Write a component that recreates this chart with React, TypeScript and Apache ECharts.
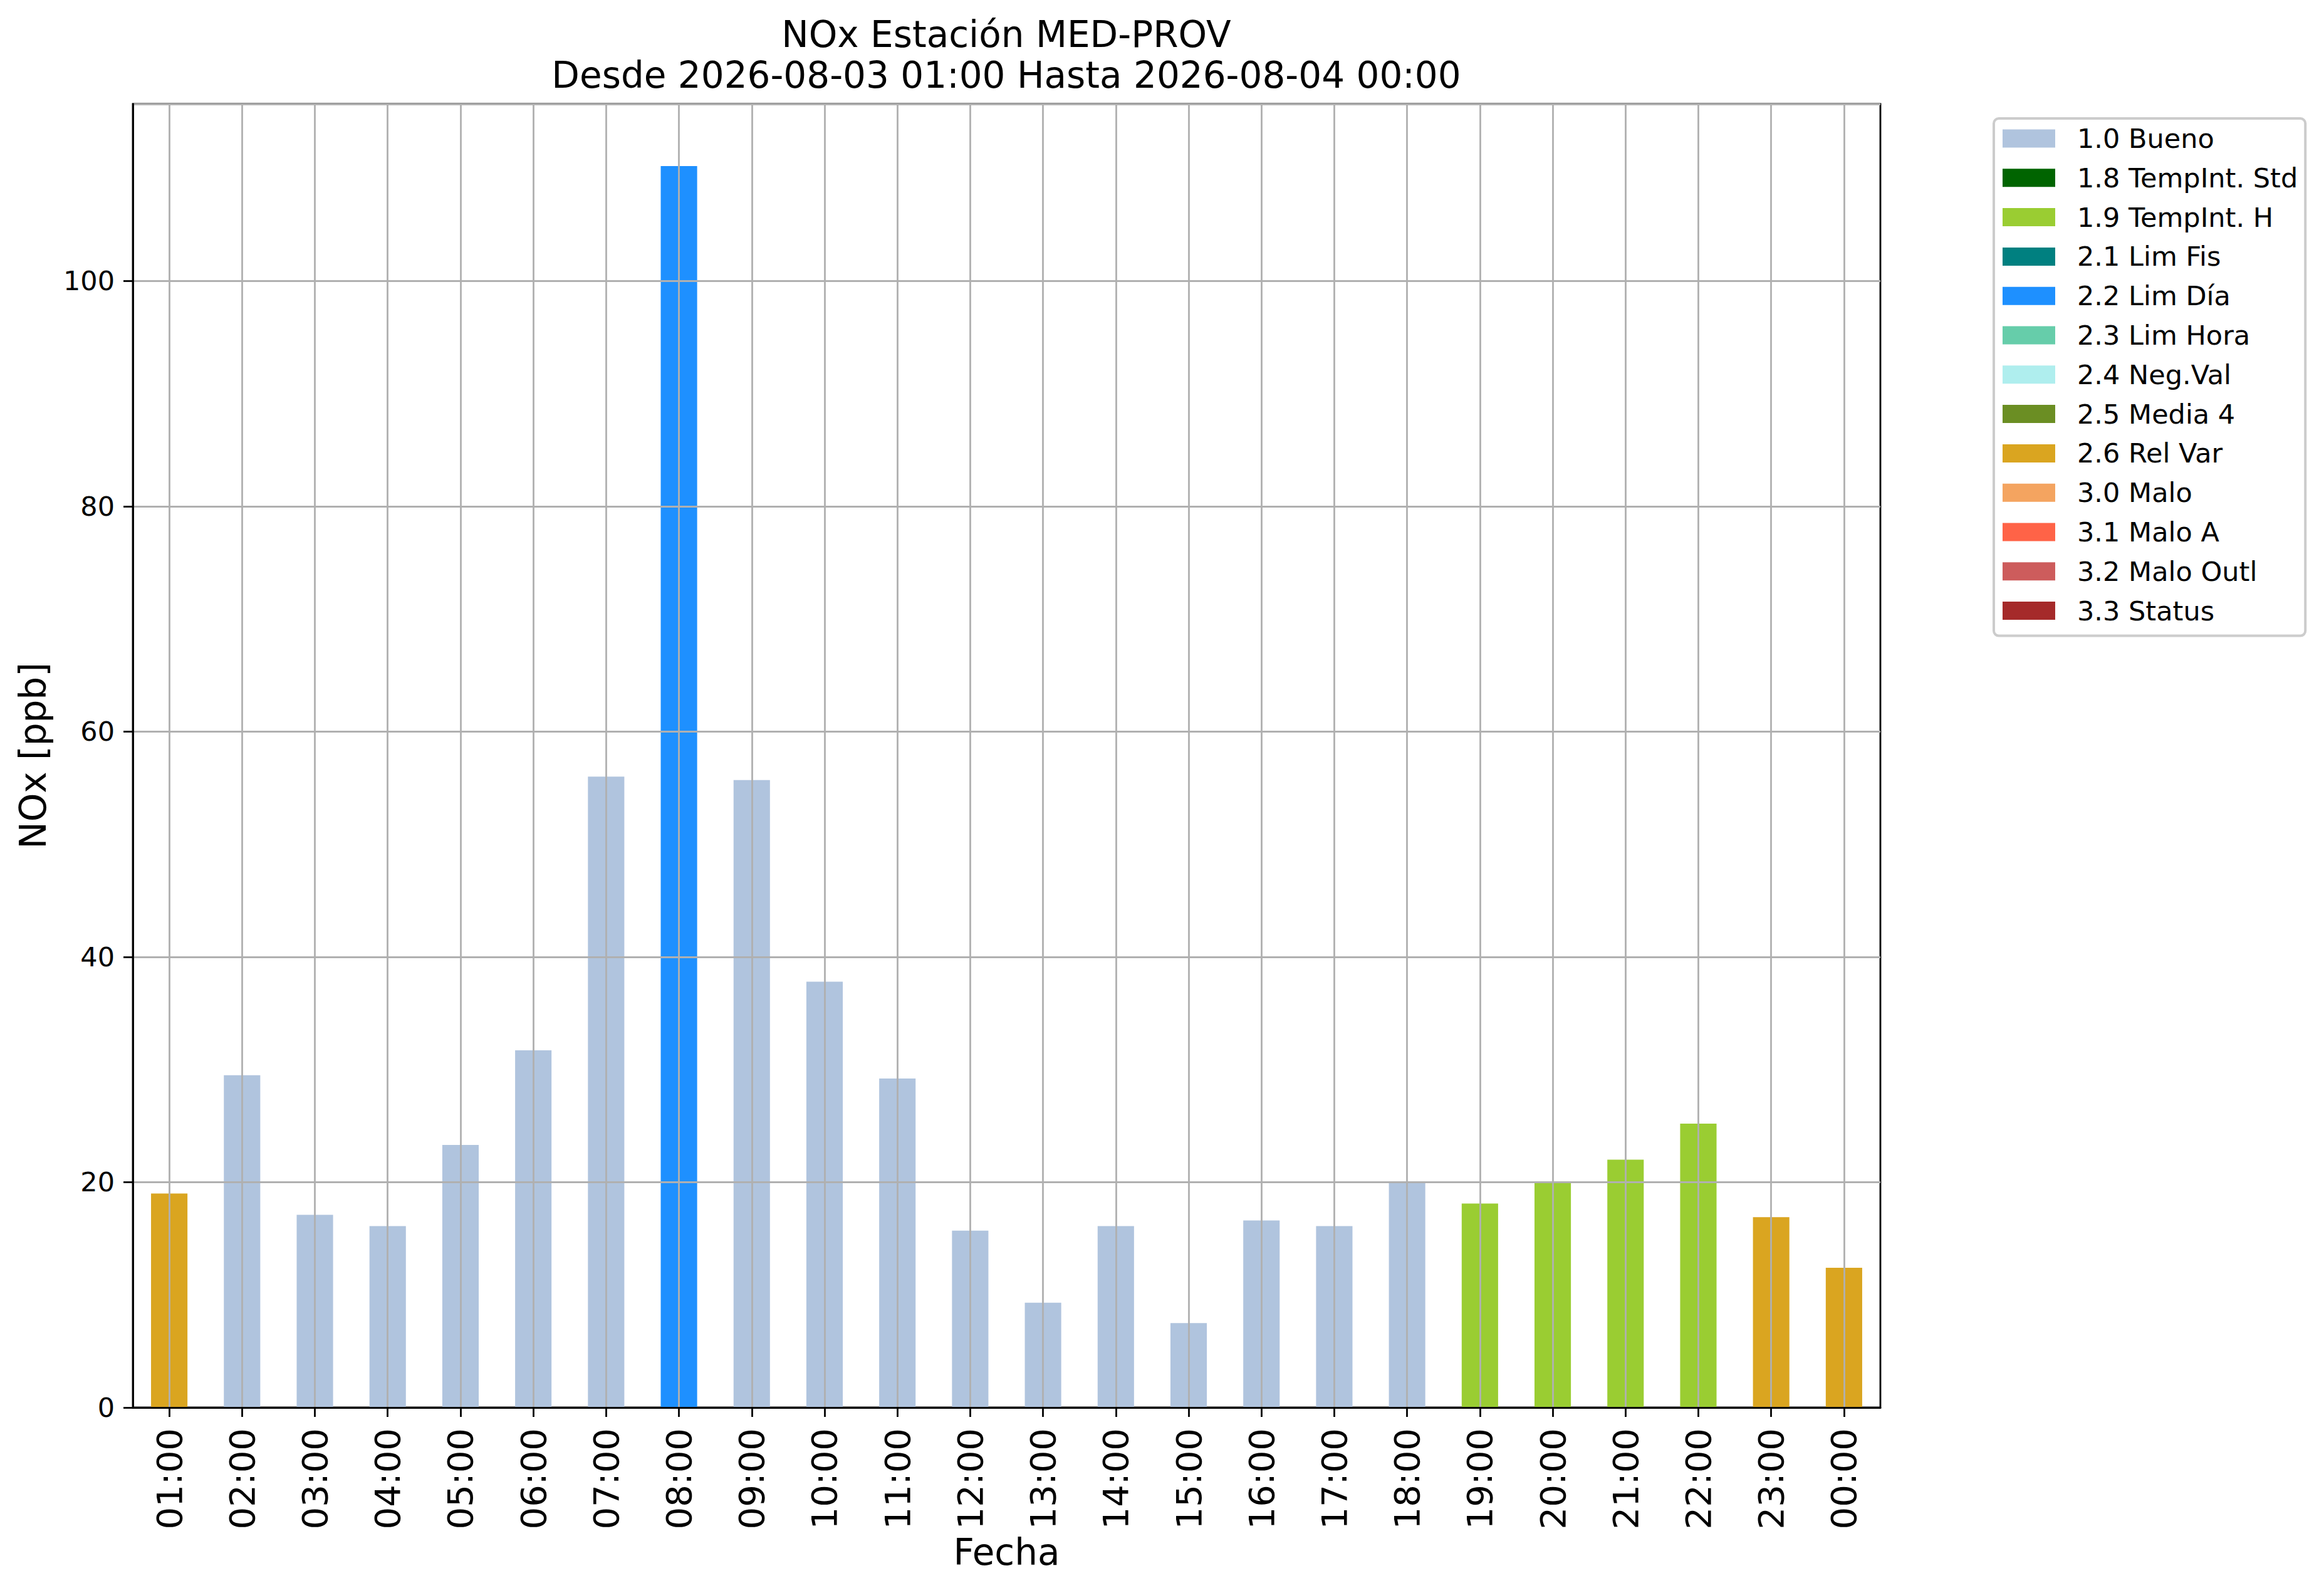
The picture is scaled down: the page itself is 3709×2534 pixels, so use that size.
import React, { useEffect, useRef } from "react";
import * as echarts from "echarts";

const hours = [
  "01:00", "02:00", "03:00", "04:00", "05:00", "06:00", "07:00", "08:00",
  "09:00", "10:00", "11:00", "12:00", "13:00", "14:00", "15:00", "16:00",
  "17:00", "18:00", "19:00", "20:00", "21:00", "22:00", "23:00", "00:00",
];

const noxValues = [
  19.0, 29.5, 17.1, 16.1, 23.3, 31.7, 56.0, 110.2,
  55.7, 37.8, 29.2, 15.7, 9.3, 16.1, 7.5, 16.6,
  16.1, 20.0, 18.1, 20.0, 22.0, 25.2, 16.9, 12.4,
];

const hourFlags = [
  "2.6 Rel Var", "1.0 Bueno", "1.0 Bueno", "1.0 Bueno", "1.0 Bueno", "1.0 Bueno", "1.0 Bueno", "2.2 Lim Día",
  "1.0 Bueno", "1.0 Bueno", "1.0 Bueno", "1.0 Bueno", "1.0 Bueno", "1.0 Bueno", "1.0 Bueno", "1.0 Bueno",
  "1.0 Bueno", "1.0 Bueno", "1.9 TempInt. H", "1.9 TempInt. H", "1.9 TempInt. H", "1.9 TempInt. H", "2.6 Rel Var", "2.6 Rel Var",
];

const flagNames = [
  "1.0 Bueno", "1.8 TempInt. Std", "1.9 TempInt. H", "2.1 Lim Fis", "2.2 Lim Día",
  "2.3 Lim Hora", "2.4 Neg.Val", "2.5 Media 4", "2.6 Rel Var", "3.0 Malo",
  "3.1 Malo A", "3.2 Malo Outl", "3.3 Status",
];

const flagColors = [
  "#B0C4DE", "#006400", "#9ACD32", "#008080", "#1E90FF",
  "#66CDAA", "#AFEEEE", "#6B8E23", "#DAA520", "#F4A460",
  "#FF6347", "#CD5C5C", "#A52A2A",
];

const yTicks = [0, 20, 40, 60, 80, 100];
const yMax = 115.7;

const titleLines = ["NOx Estación MED-PROV", "Desde 2026-08-03 01:00 Hasta 2026-08-04 00:00"];
const yAxisTitle = "NOx [ppb]";
const xAxisTitle = "Fecha";

const FONT = "DejaVu Sans";

export default function App() {
  const ref = useRef<HTMLDivElement>(null);

  useEffect(() => {
    if (!ref.current) return;
    const chart = echarts.init(ref.current, undefined, { renderer: "svg" });

    const series = flagNames.map((name, k) => ({
      name,
      type: "bar" as const,
      stack: "flags",
      barWidth: "50%",
      itemStyle: { color: flagColors[k] },
      z: 2,
      data: noxValues.map((v, i) => (hourFlags[i] === name ? v : "-")),
    }));

    chart.setOption({
      animation: false,
      backgroundColor: "#ffffff",
      textStyle: { fontFamily: FONT },
      title: {
        text: titleLines.join("\n"),
        left: 1606,
        top: 22,
        textAlign: "center",
        padding: 0,
        textStyle: {
          fontFamily: FONT,
          fontSize: 58,
          lineHeight: 65,
          fontWeight: "normal",
          color: "#000000",
        },
      },
      legend: {
        orient: "vertical",
        left: 3182,
        top: 189,
        padding: [10, 12, 18, 14],
        itemWidth: 84,
        itemHeight: 29,
        itemGap: 18.8,
        icon: "rect",
        borderColor: "#cccccc",
        borderWidth: 4,
        borderRadius: 8,
        backgroundColor: "rgba(255,255,255,0.8)",
        data: flagNames,
        textStyle: {
          fontFamily: FONT,
          fontSize: 43,
          lineHeight: 44,
          color: "#000000",
          padding: [0, 0, 0, 30],
        },
      },
      grid: {
        left: 212,
        top: 166,
        right: 708,
        bottom: 288,
        show: true,
        borderColor: "#000000",
        borderWidth: 2.8,
        backgroundColor: "transparent",
        containLabel: false,
      },
      xAxis: {
        type: "category",
        data: hours,
        z: 3,
        name: xAxisTitle,
        nameLocation: "middle",
        nameGap: 197,
        nameTextStyle: { fontFamily: FONT, fontSize: 58, lineHeight: 58, color: "#000000" },
        axisLine: { show: true, lineStyle: { color: "#000000", width: 2.8 } },
        axisTick: { show: true, alignWithLabel: true, interval: 0, length: 15, lineStyle: { color: "#000000", width: 2.8 } },
        axisLabel: { interval: 0, rotate: 90, margin: 33, fontFamily: FONT, fontSize: 56, color: "#000000" },
        splitLine: { show: true, interval: 0, alignWithLabel: true, lineStyle: { color: "#b0b0b0", width: 2.8 } },
      },
      yAxis: {
        type: "value",
        min: 0,
        max: yMax,
        interval: 20,
        z: 3,
        name: yAxisTitle,
        nameLocation: "middle",
        nameGap: 130,
        nameTextStyle: { fontFamily: FONT, fontSize: 58, lineHeight: 58, color: "#000000" },
        axisLine: { show: true, lineStyle: { color: "#000000", width: 2.8 } },
        axisTick: { show: true, length: 15, lineStyle: { color: "#000000", width: 2.8 } },
        axisLabel: {
          margin: 29,
          fontFamily: FONT,
          fontSize: 43,
          color: "#000000",
          showMaxLabel: false,
          formatter: (v: number) => (yTicks.includes(v) ? String(v) : ""),
        },
        splitLine: { show: true, lineStyle: { color: "#b0b0b0", width: 2.8 } },
      },
      series,
    });

    return () => chart.dispose();
  }, []);

  return (
    <div
      ref={ref}
      style={{ position: "absolute", left: 0, top: 0, width: 3709, height: 2534, background: "#fff" }}
    />
  );
}
